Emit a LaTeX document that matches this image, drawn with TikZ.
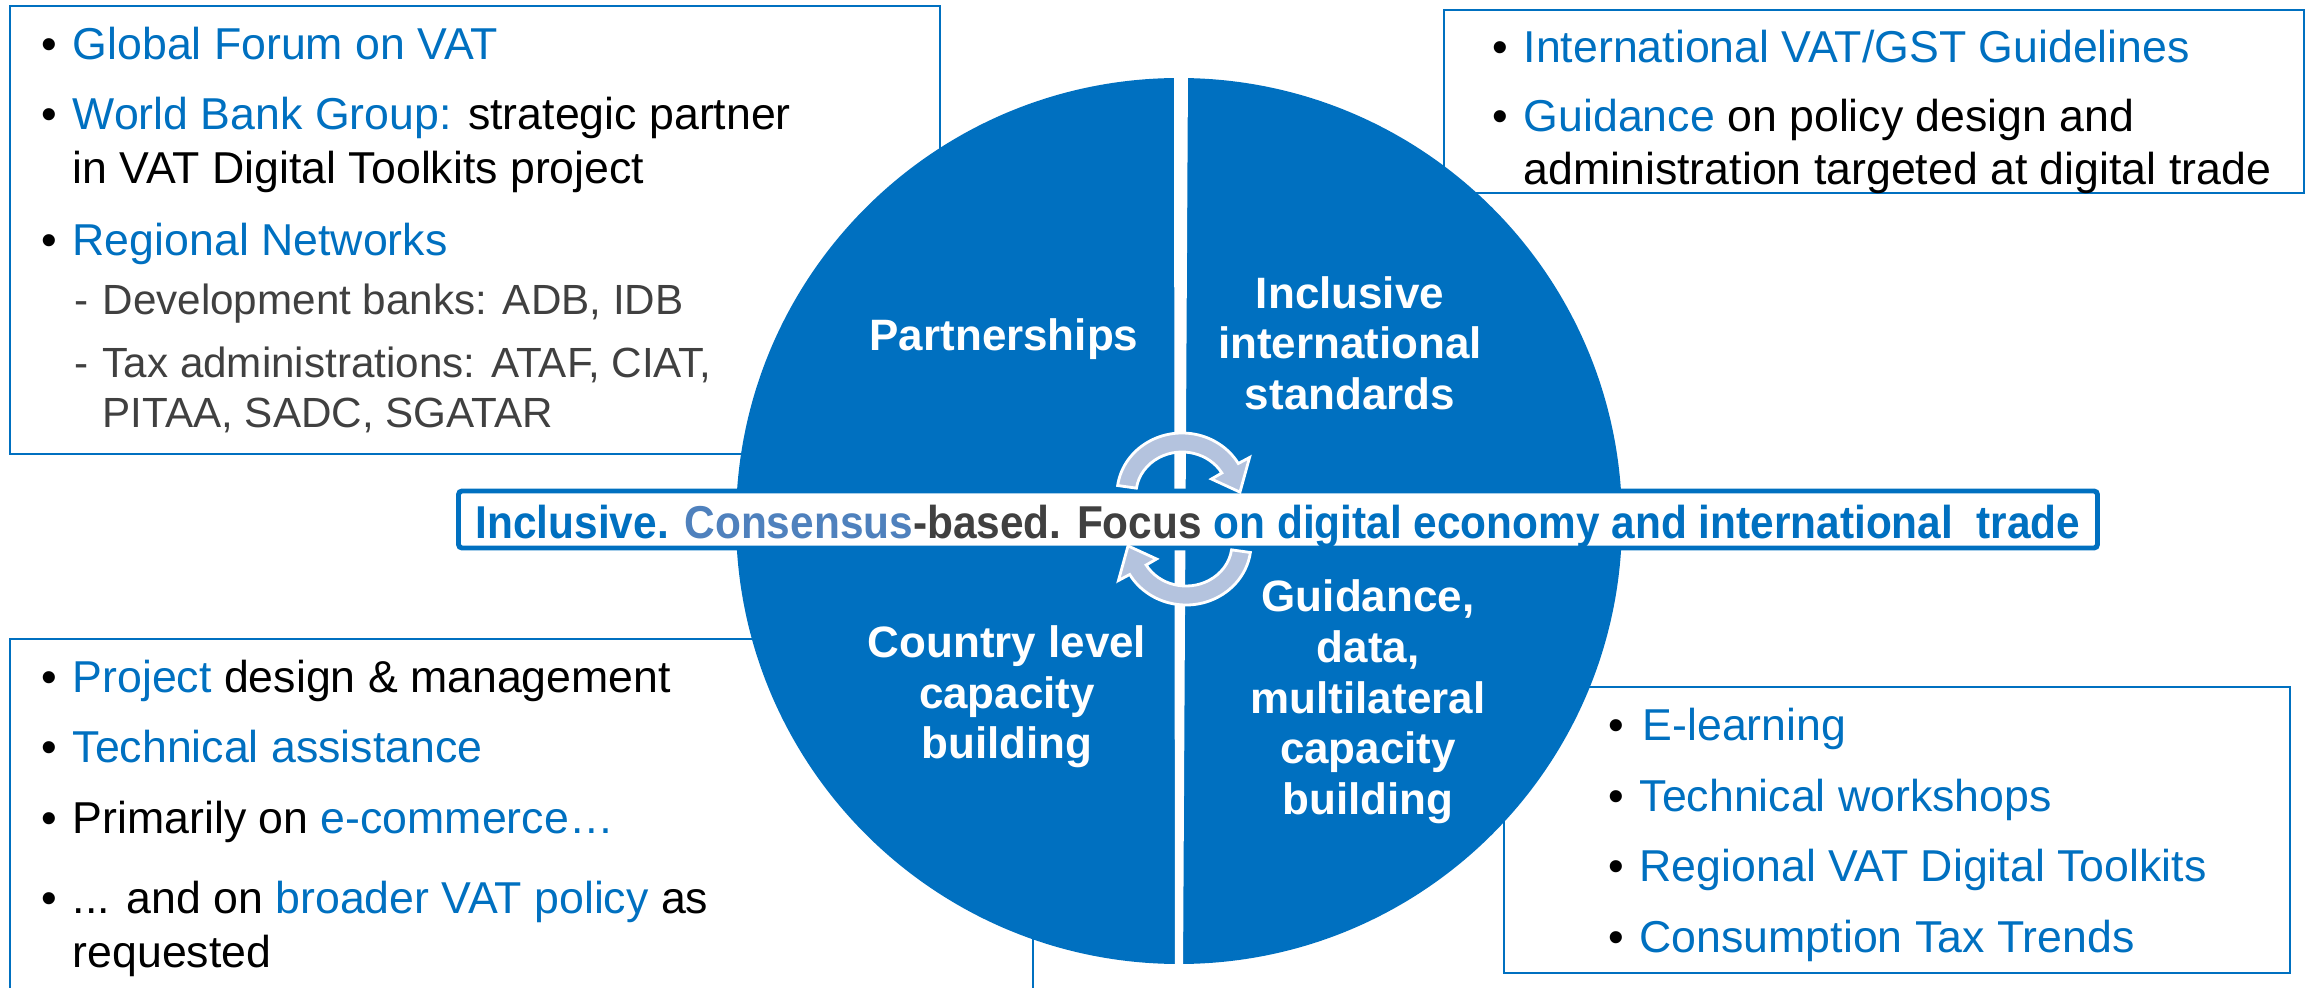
\documentclass[tikz,border=0pt]{standalone}
\usepackage{fontspec}
\setmainfont{Liberation Sans}
\usepackage{graphicx}
\usepackage{tikz}
\usetikzlibrary{positioning}
\usepackage{xcolor}
\definecolor{oecdblue}{RGB}{0,112,192}
\definecolor{consblue}{RGB}{79,129,189}
\definecolor{darkgrey}{RGB}{64,64,64}
\definecolor{arrowfill}{RGB}{180,195,222}
\newcommand{\bul}{\llap{\textcolor{black}{\textbullet}\hspace{0.16cm}}}
\newcommand{\subdash}{\llap{-\hspace{0.14cm}}}

\begin{document}
\begin{tikzpicture}[x=0.01cm, y=-0.01cm,
  infobox/.style={draw=oecdblue, line width=0.7pt},
  item/.style={anchor=base west, inner sep=0pt, font=\fontsize{12.7}{15}\selectfont},
  subitem/.style={item, text=darkgrey, font=\fontsize{12}{14}\selectfont},
  pielabel/.style={align=center, text=white, inner sep=0pt, font=\bfseries\fontsize{12.5}{14.4}\selectfont},
  cyclearrow/.style={fill=arrowfill, draw=white, line width=0.8pt}]
  \useasboundingbox (0,0) rectangle (2311,988);
  % frames, partly hidden by the disc
  \draw[infobox] (10,6) rectangle (940,454);
  \draw[infobox] (1444,10) rectangle (2304,193);
  \draw[infobox] (10,995) -- (10,639) -- (1033,639) -- (1033,995);
  \draw[infobox] (1504,687) rectangle (2290,973);
  % disc and its split
  \fill[oecdblue] (1179,521) circle[radius=443];
  \fill[white] (1174,70) -- (1188,70) -- (1183,975) -- (1175,975) -- cycle;
  % banner across the disc
  \node[draw=oecdblue, line width=1.4pt, fill=white, rounded corners=1pt,
        minimum width=16.38cm, minimum height=0.57cm, inner sep=0pt,
        text height=0.40cm, text depth=0.03cm,
        font=\bfseries\fontsize{13.1}{15}\selectfont] (focus) at (1278,519.5)
    {\scalebox{0.92}[1]{\textcolor{oecdblue}{Inclusive.} \textcolor{consblue}{Consensus}\textcolor{darkgrey}{-based. Focus} \textcolor{oecdblue}{on digital economy and international~ trade}}};
  % the two turning arrows
  \begin{scope}[shift={(1182,494)}]
    \filldraw[cyclearrow] (188:65 and 61) arc[start angle=188, end angle=330, x radius=65, y radius=61]
      -- (330:78 and 73) -- (358:58 and 54) -- (330:34 and 30)
      -- (330:46 and 42) arc[start angle=330, end angle=188, x radius=46, y radius=42] -- cycle;
  \end{scope}
  \begin{scope}[shift={(1186,544)}, rotate=180]
    \filldraw[cyclearrow] (188:65 and 61) arc[start angle=188, end angle=330, x radius=65, y radius=61]
      -- (330:78 and 73) -- (358:58 and 54) -- (330:34 and 30)
      -- (330:46 and 42) arc[start angle=330, end angle=188, x radius=46, y radius=42] -- cycle;
  \end{scope}
  % quarter labels
  \node[pielabel] (partners) at (1004,339) {Partnerships};
  \node[pielabel] (standards) at (1350,343) {Inclusive\\international\\standards};
  \node[pielabel] (country) at (1007,697) {Country level\\capacity\\building};
  \node[pielabel] (guidance) at (1368,702) {Guidance,\\data,\\multilateral\\capacity\\building};
  % partnerships box
  \node[item, text=oecdblue] (forum) at (72,60) {\bul Global Forum on VAT};
  \node[item] (wbg) at (72,130) {\bul\textcolor{oecdblue}{World Bank Group:} strategic partner};
  \node[item] (wbg2) at (72,184) {in VAT Digital Toolkits project};
  \node[item, text=oecdblue] (regional) at (72,255) {\bul Regional Networks};
  \node[subitem] (banks) at (102,315) {\subdash Development banks: ADB, IDB};
  \node[subitem] (taxadm) at (102,378) {\subdash Tax administrations: ATAF, CIAT,};
  \node[subitem] (taxadm2) at (102,428) {PITAA, SADC, SGATAR};
  % standards box
  \node[item, text=oecdblue] (guidelines) at (1523,63) {\bul International VAT/GST Guidelines};
  \node[item] (policy) at (1523,132) {\bul\textcolor{oecdblue}{Guidance} on policy design and};
  \node[item] (policy2) at (1523,185) {administration targeted at digital trade};
  % country level box
  \node[item] (project) at (72,692) {\bul\textcolor{oecdblue}{Project} design \& management};
  \node[item, text=oecdblue] (techassist) at (72,762) {\bul Technical assistance};
  \node[item] (ecommerce) at (72,833) {\bul Primarily on \textcolor{oecdblue}{e-commerce…}};
  \node[item] (broader) at (72,913) {\bul ... and on \textcolor{oecdblue}{broader VAT policy} as};
  \node[item] (broader2) at (72,967) {requested};
  % multilateral box
  \node[item, text=oecdblue] (elearn) at (1639,740) {\bul\hspace{0.03cm}E-learning};
  \node[item, text=oecdblue] (workshops) at (1639,811) {\bul Technical workshops};
  \node[item, text=oecdblue] (toolkits) at (1639,881) {\bul Regional VAT Digital Toolkits};
  \node[item, text=oecdblue] (trends) at (1639,952) {\bul Consumption Tax Trends};
\end{tikzpicture}
\end{document}
